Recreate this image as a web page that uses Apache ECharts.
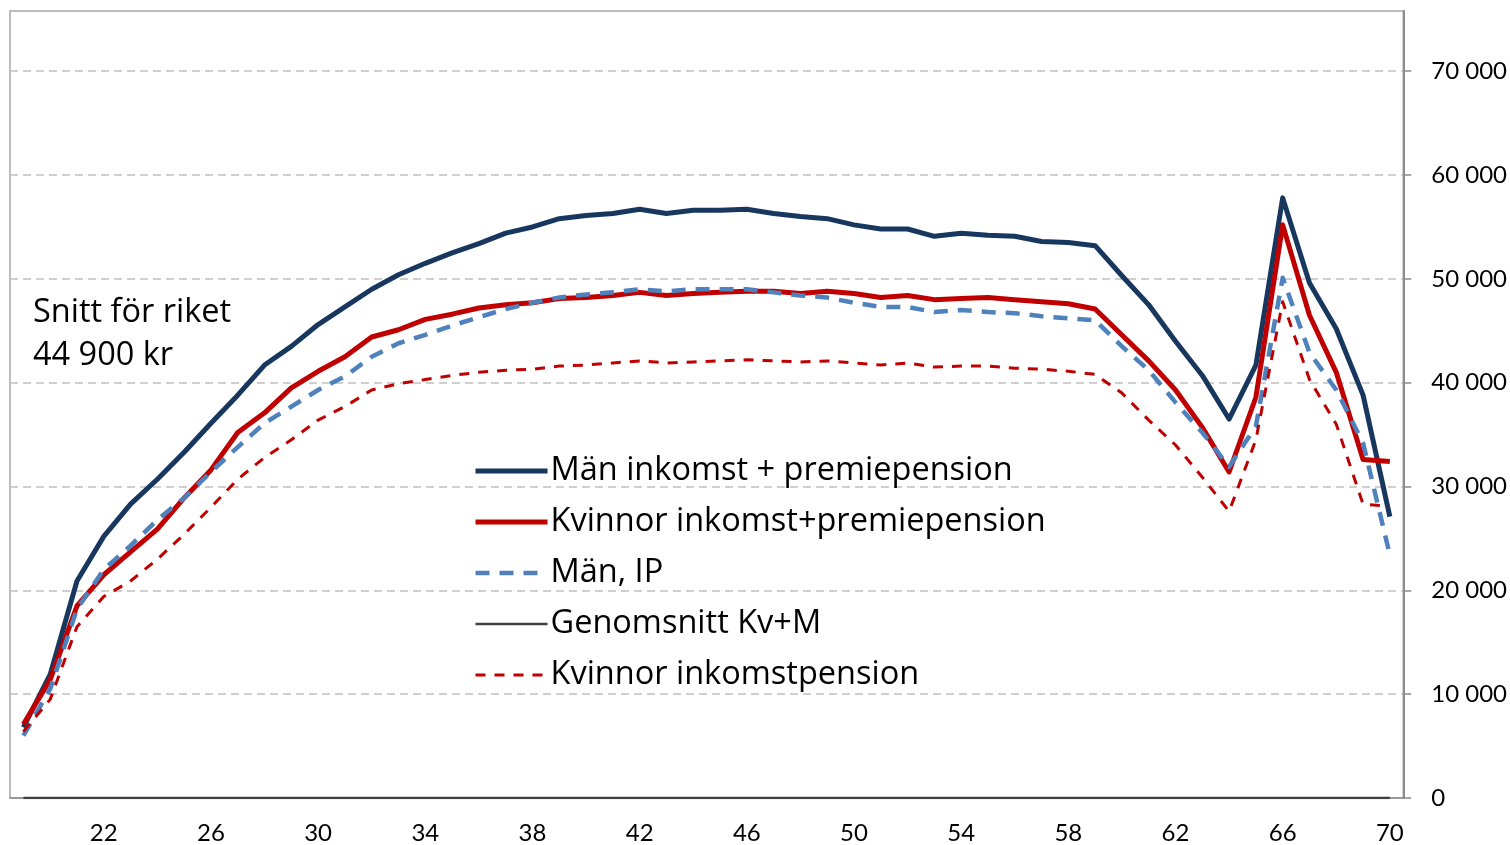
<!DOCTYPE html>
<html>
<head>
<meta charset="utf-8">
<script src="https://cdn.jsdelivr.net/npm/echarts@6/dist/echarts.min.js"></script>
<style>
html,body{margin:0;padding:0;background:#fff;}
#c{width:1510px;height:845px;}
</style>
</head>
<body>
<div id="c"></div>
<script>
const ages = [19,20,21,22,23,24,25,26,27,28,29,30,31,32,33,34,35,36,37,38,39,40,41,42,43,44,45,46,47,48,49,50,51,52,53,54,55,56,57,58,59,60,61,62,63,64,65,66,67,68,69,70];

const manInkPrem = [6800,11900,20900,25200,28300,30700,33300,36100,38800,41700,43500,45600,47300,49000,50400,51500,52500,53400,54400,55000,55800,56100,56300,56700,56300,56600,56600,56700,56300,56000,55800,55200,54800,54800,54100,54400,54200,54100,53600,53500,53200,50300,47500,44000,40700,36500,41700,57800,49600,45200,38800,27100];

const kvInkPrem = [7100,11400,18500,21500,23700,25900,28900,31600,35200,37100,39500,41100,42500,44400,45100,46100,46600,47200,47500,47700,48100,48200,48400,48700,48400,48600,48700,48800,48800,48600,48800,48600,48200,48400,48000,48100,48200,48000,47800,47600,47100,44600,42100,39300,35700,31400,38600,55200,46500,41000,32600,32400];

const manIP = [6000,10500,18200,22000,24300,26800,28900,31400,33800,36100,37700,39300,40600,42500,43800,44600,45500,46300,47100,47700,48200,48500,48700,49000,48800,49000,49000,49000,48700,48400,48200,47700,47300,47300,46800,47000,46800,46700,46400,46200,46000,43500,41200,38100,35200,31900,35800,50100,42900,39300,34200,23400];

const genomsnitt = [0,0,0,0,0,0,0,0,0,0,0,0,0,0,0,0,0,0,0,0,0,0,0,0,0,0,0,0,0,0,0,0,0,0,0,0,0,0,0,0,0,0,0,0,0,0,0,0,0,0,0,0];

const kvIP = [6400,9500,16500,19400,20900,23000,25400,28000,30700,32800,34500,36400,37700,39300,39900,40300,40700,41000,41200,41300,41600,41700,41900,42100,41900,42000,42100,42200,42100,42000,42100,41900,41700,41900,41500,41600,41600,41400,41300,41100,40800,39000,36400,34000,30900,27600,34500,47800,40300,36000,28300,28100];

const seriesNames = ['Män inkomst + premiepension','Kvinnor inkomst+premiepension','Män, IP','Genomsnitt Kv+M','Kvinnor inkomstpension'];
const annotation = 'Snitt för riket\n44 900 kr';

const AXFONT = 'Lato, "Open Sans", sans-serif';
const TXFONT = '"Open Sans", "Noto Sans", sans-serif';
const fmt = v => String(v).replace(/\B(?=(\d{3})+(?!\d))/g, ' ');

const chart = echarts.init(document.getElementById('c'), null, {renderer:'canvas'});
chart.setOption({
  animation: false,
  backgroundColor: '#ffffff',
  title: {
    text: annotation,
    left: 33, top: 291, padding: 0,
    textStyle: {fontFamily: TXFONT, fontSize: 32.5, fontWeight: 'normal', color: '#000', lineHeight: 43}
  },
  legend: {
    orient: 'vertical',
    left: 473, top: 453, padding: 0,
    itemWidth: 72, itemHeight: 20,
    itemGap: 15,
    itemStyle: {opacity: 0},
    lineStyle: {width: 'inherit'},
    textStyle: {fontFamily: TXFONT, fontSize: 32.5, color: '#000', lineHeight: 36, padding: [0,0,0,-2]},
    data: seriesNames
  },
  grid: {
    left: 10, right: 102, top: 11, bottom: 46,
    show: true, borderColor: '#a6a6a6', borderWidth: 1.5
  },
  xAxis: {
    type: 'category',
    data: ages,
    boundaryGap: true,
    axisLine: {lineStyle: {color: '#8c8c8c', width: 1.5}},
    axisTick: {interval: 3, length: 7, lineStyle: {color: '#8c8c8c', width: 1.5}},
    axisLabel: {
      interval: (i) => (i - 3) % 4 === 0,
      fontFamily: AXFONT, fontSize: 24, color: '#000', margin: 23
    },
    splitLine: {show: false}
  },
  yAxis: {
    type: 'value',
    position: 'right',
    min: 0, max: 75800, interval: 10000,
    axisLine: {show: true, lineStyle: {color: '#8c8c8c', width: 2}},
    axisTick: {show: true, length: 8, lineStyle: {color: '#8c8c8c', width: 1.5}},
    axisLabel: {showMaxLabel: false, formatter: fmt, fontFamily: AXFONT, fontSize: 24, color: '#000', margin: 28},
    splitLine: {show: true, showMaxLine: false, showMinLine: false, lineStyle: {color: '#c0c0c0', width: 1.5, type: [8, 5]}}
  },
  series: [
    {name: seriesNames[0], type: 'line', data: manInkPrem, symbol: 'none',
     lineStyle: {color: '#17375E', width: 5, join: 'round'}, itemStyle: {color: '#17375E'}},
    {name: seriesNames[1], type: 'line', data: kvInkPrem, symbol: 'none',
     lineStyle: {color: '#C00000', width: 5, join: 'round'}, itemStyle: {color: '#C00000'}},
    {name: seriesNames[2], type: 'line', data: manIP, symbol: 'none',
     lineStyle: {color: '#4F81BD', width: 4.5, type: [14, 10], join: 'round'}, itemStyle: {color: '#4F81BD'}},
    {name: seriesNames[3], type: 'line', data: genomsnitt, symbol: 'none',
     lineStyle: {color: '#404040', width: 2.5}, itemStyle: {color: '#404040'}},
    {name: seriesNames[4], type: 'line', data: kvIP, symbol: 'none',
     lineStyle: {color: '#C00000', width: 3, type: [10, 9], join: 'round'}, itemStyle: {color: '#C00000'}}
  ]
});
</script>
</body>
</html>
